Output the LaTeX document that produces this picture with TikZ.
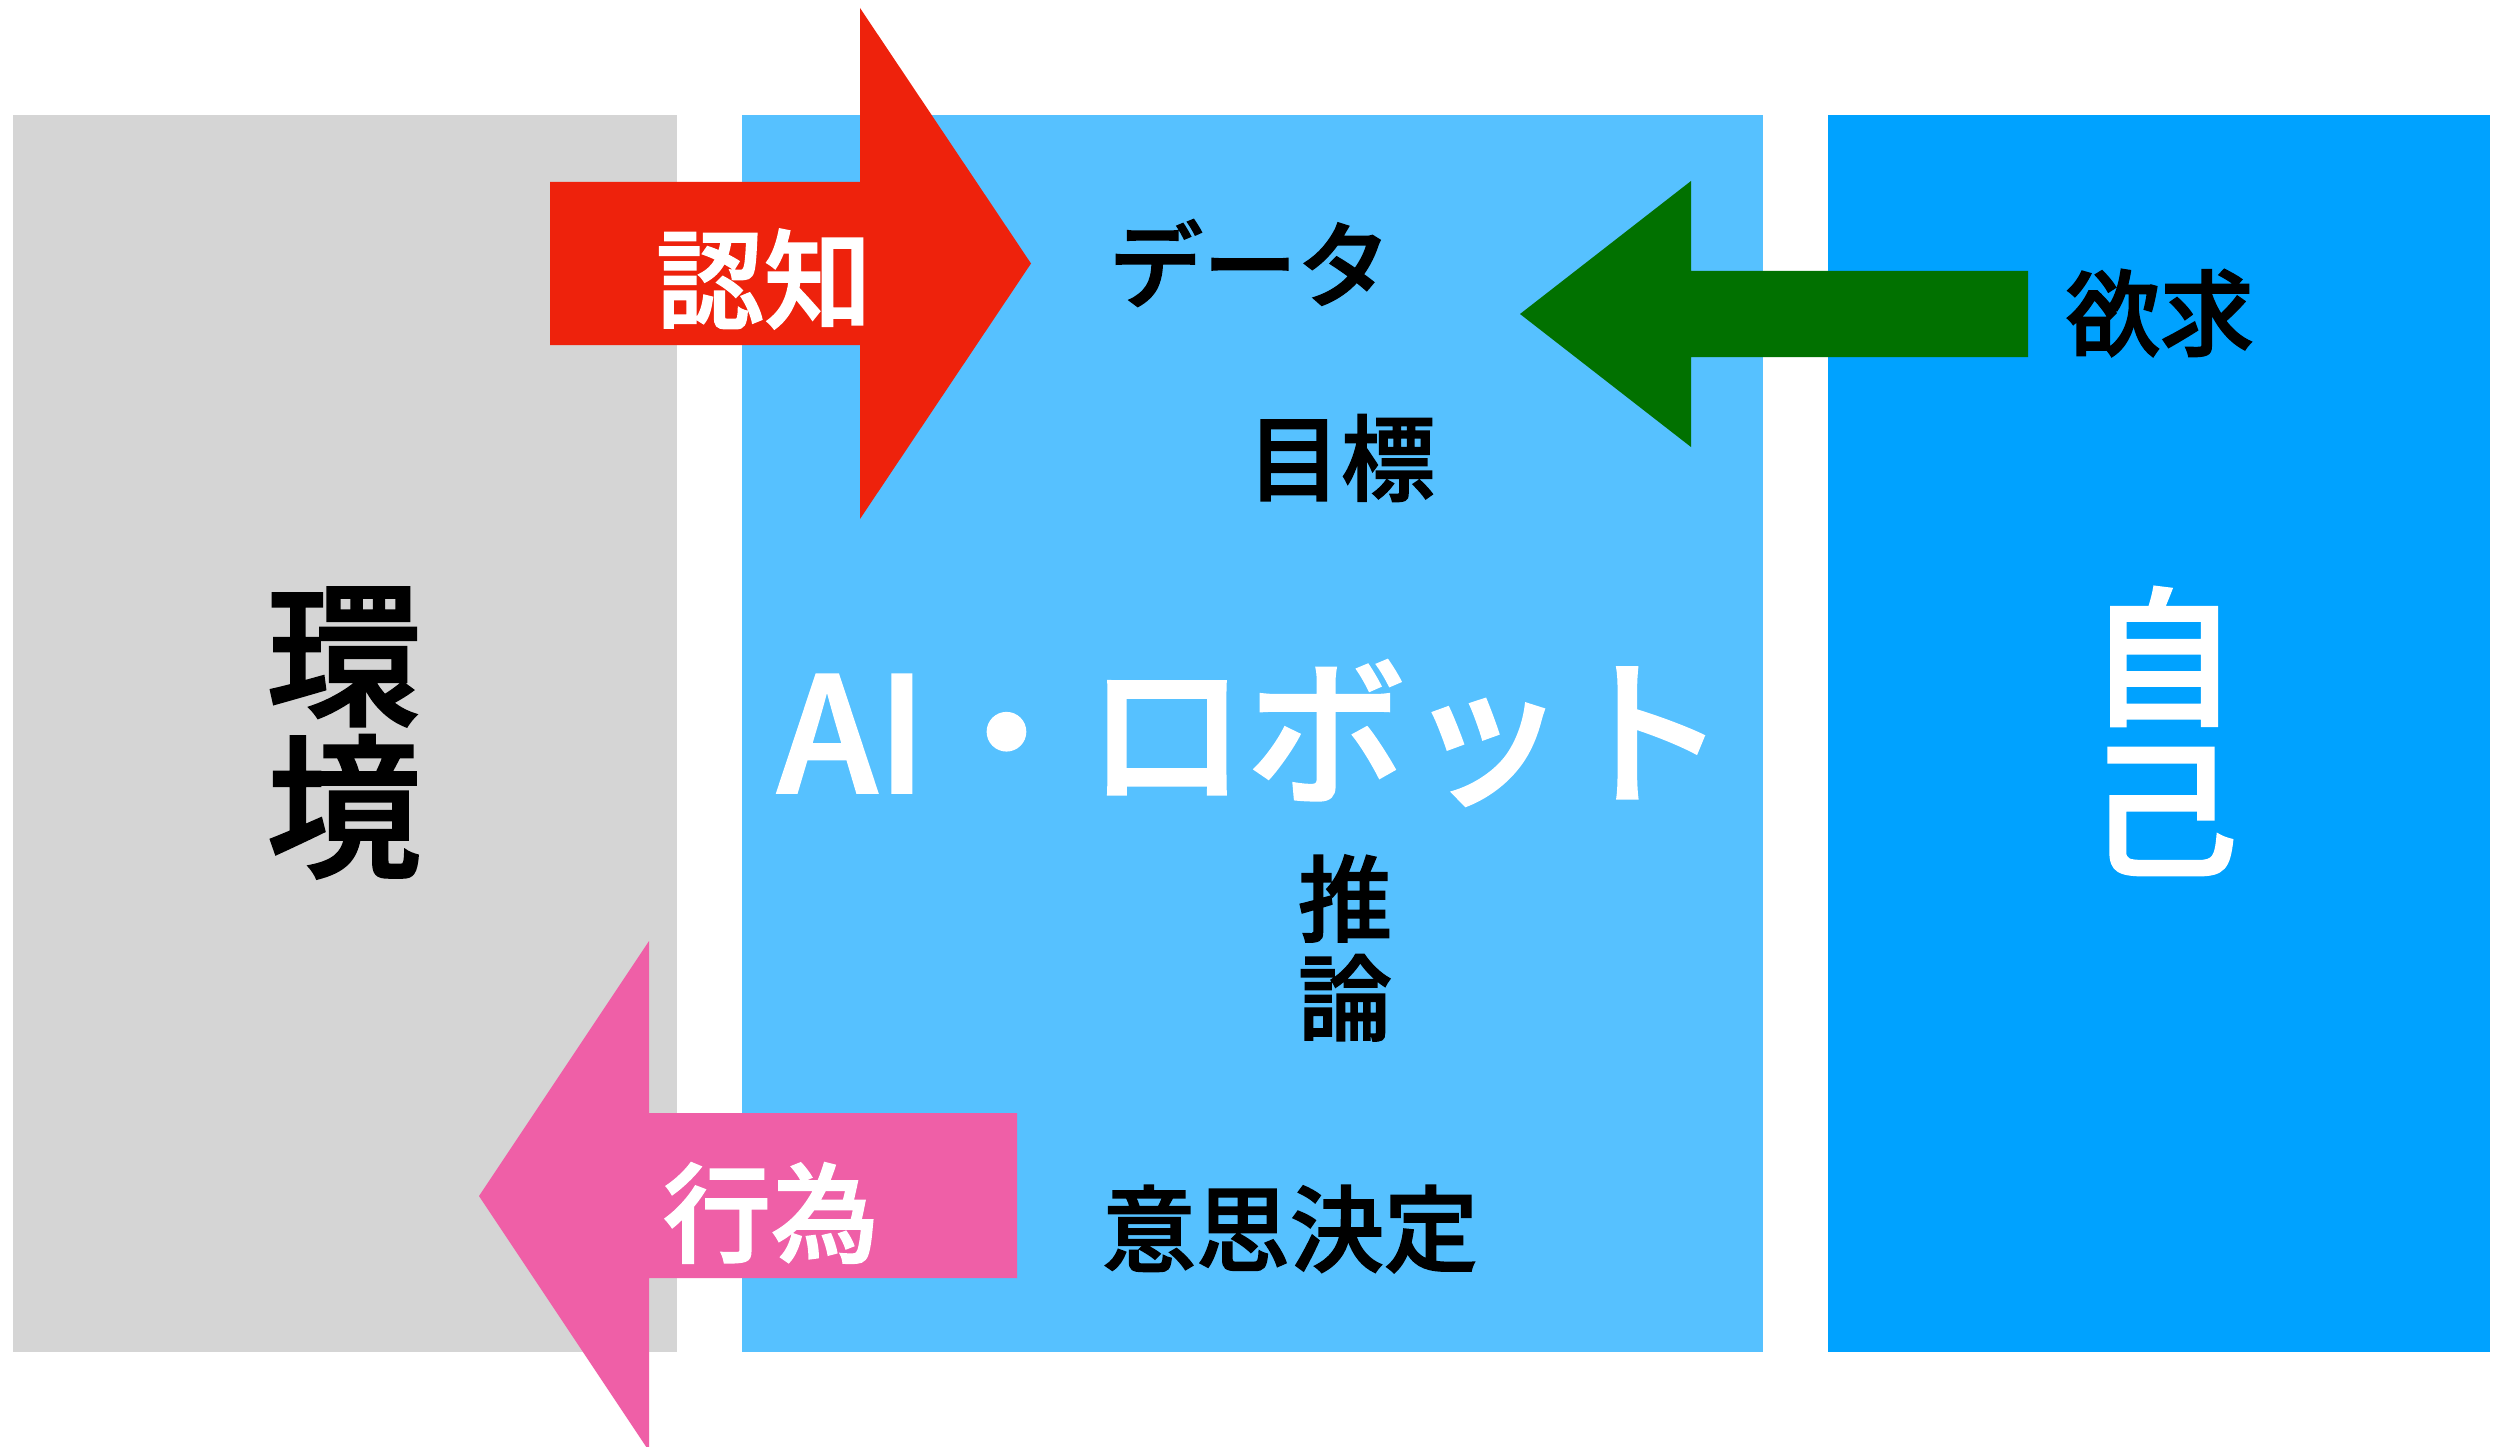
\documentclass[tikz,border=0pt]{standalone}
\usepackage{fontspec}
\setmainfont{Noto Sans CJK JP}
\IfFontExistsTF{Noto Sans CJK JP Medium}
  {\newfontfamily\jpw[FakeBold=1.6]{Noto Sans CJK JP Medium}}
  {\newfontfamily\jpw{Noto Sans CJK JP Bold}}
\definecolor{envgray}{HTML}{D5D5D5}
\definecolor{ailblue}{HTML}{56C1FF}
\definecolor{selfblue}{HTML}{00A2FF}
\definecolor{arrred}{HTML}{EE220C}
\definecolor{arrgreen}{HTML}{017100}
\definecolor{arrpink}{HTML}{EF5FA7}
\begin{document}
\begin{tikzpicture}[x=1pt,y=-1pt,
  blacklabel/.style={inner sep=0pt,text=black,font=\fontsize{94}{99}\selectfont\jpw,align=center},
  whitelabel/.style={inner sep=0pt,text=white,font=\fontsize{108}{110}\selectfont\jpw,align=center},
  biglabel/.style={inner sep=0pt,align=center}]
\useasboundingbox (0,0) rectangle (2503,1447);
\fill[white] (0,0) rectangle (2503,1447);
% panels
\fill[envgray] (13,115) rectangle (677,1352);
\fill[ailblue] (742,115) rectangle (1763,1352);
\fill[selfblue] (1828,115) rectangle (2490,1352);
% arrows
\fill[arrred] (550,182) -- (860,182) -- (860,8) -- (1031,263.5) -- (860,519) -- (860,345) -- (550,345) -- cycle;
\fill[arrgreen] (2028,271) -- (1691,271) -- (1691,181) -- (1520,314) -- (1691,447) -- (1691,357) -- (2028,357) -- cycle;
\fill[arrpink] (1017,1113) -- (649,1113) -- (649,941) -- (479,1196) -- (649,1451) -- (649,1278) -- (1017,1278) -- cycle;
% texts
\node[biglabel,text=black,font=\fontsize{155}{152}\selectfont\jpw] (env) at (344,733) {環\\境};
\node[biglabel,text=white,font=\fontsize{150}{152}\selectfont\jpw] (self) at (2163,731) {自\\己};
\node[biglabel,text=white,font=\fontsize{160}{160}\selectfont\jpw] (ai) at (1252,733) {AI・ロボット};
\node[blacklabel] (data) at (1250,263) {データ};
\node[blacklabel] (goal) at (1341,458) {目標};
\node[blacklabel] (infer) at (1345,948) {推\\論};
\node[blacklabel] (decide) at (1290,1229) {意思決定};
\node[blacklabel] (desire) at (2160,313) {欲求};
\node[whitelabel] (cog) at (764,279) {認知};
\node[whitelabel] (act) at (771,1213) {行為};
\end{tikzpicture}
\end{document}
